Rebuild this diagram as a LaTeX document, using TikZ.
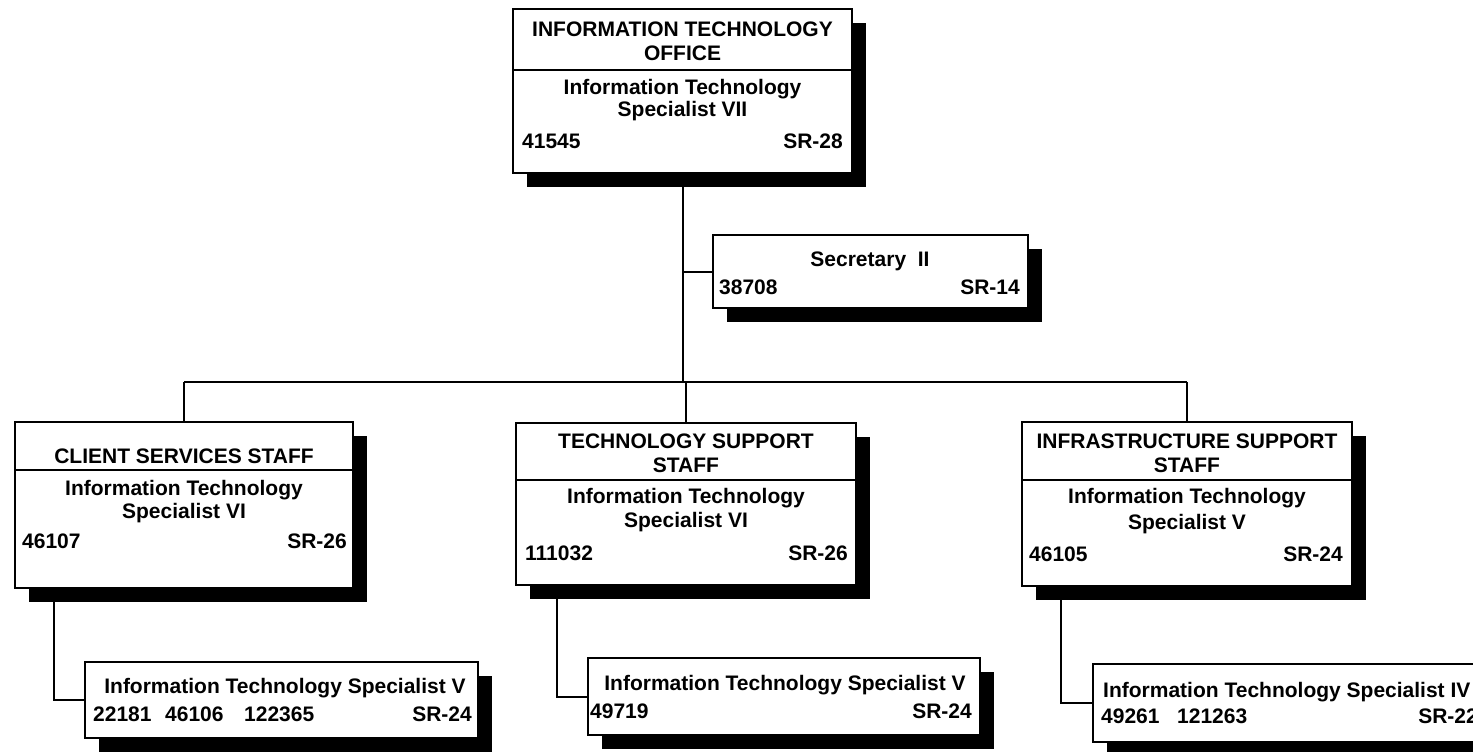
\documentclass[tikz,border=0pt]{standalone}
\usepackage{fontspec}
\setmainfont{Liberation Sans}
\usetikzlibrary{positioning,shadows}
\begin{document}
\begin{tikzpicture}[x=1pt,y=-1pt, line join=miter, font=\bfseries\fontsize{21}{24}\selectfont,
	post/.style={draw, line width=2pt, fill=white, inner sep=0pt,
		drop shadow={shadow xshift=14pt, shadow yshift=-14pt, fill=black, opacity=1}},
	txt/.style={inner sep=0pt, anchor=base},
	txtl/.style={inner sep=0pt, anchor=base west},
	txtr/.style={inner sep=0pt, anchor=base east},
	link/.style={line width=2pt}]
	\useasboundingbox (0,0) rectangle (1473,752);
	\clip (0,0) rectangle (1473,752);
	% Office
	\node[post, minimum width=339, minimum height=164] (ito) at (682.5,91) {};
	\draw[link] ([yshift=-62pt]ito.north west) -- ([yshift=-62pt]ito.north east);
	\node[txt] (ito-a) at (682.5,37) {INFORMATION TECHNOLOGY};
	\node[txt] (ito-b) at (682.5,60) {OFFICE};
	\node[txt] (ito-c) at (682.5,95) {Information Technology};
	\node[txt] (ito-d) at (682.5,117) {Specialist VII};
	\node[txtl] (ito-no) at (522,148) {41545};
	\node[txtr] (ito-sr) at (843,148) {SR-28};
	% Secretary
	\node[post, minimum width=315, minimum height=73] (sec) at (870.5,271.5) {};
	\node[txt] (sec-a) at (870,266) {Secretary\ \ II};
	\node[txtl] (sec-no) at (719,294) {38708};
	\node[txtr] (sec-sr) at (1020,294) {SR-14};
	% Client services
	\node[post, minimum width=338, minimum height=166] (cs) at (184,505) {};
	\draw[link] ([yshift=-49pt]cs.north west) -- ([yshift=-49pt]cs.north east);
	\node[txt] (cs-a) at (184,463) {CLIENT SERVICES STAFF};
	\node[txt] (cs-c) at (184,495) {Information Technology};
	\node[txt] (cs-d) at (184,518) {Specialist VI};
	\node[txtl] (cs-no) at (22,548) {46107};
	\node[txtr] (cs-sr) at (347,548) {SR-26};
	% Technology support
	\node[post, minimum width=340, minimum height=162] (ts) at (686,504) {};
	\draw[link] ([yshift=-58pt]ts.north west) -- ([yshift=-58pt]ts.north east);
	\node[txt] (ts-a) at (686,448) {TECHNOLOGY SUPPORT};
	\node[txt] (ts-b) at (686,472) {STAFF};
	\node[txt] (ts-c) at (686,503) {Information Technology};
	\node[txt] (ts-d) at (686,527) {Specialist VI};
	\node[txtl] (ts-no) at (525,560) {111032};
	\node[txtr] (ts-sr) at (848,560) {SR-26};
	% Infrastructure support
	\node[post, minimum width=330, minimum height=164] (is) at (1187,504) {};
	\draw[link] ([yshift=-59pt]is.north west) -- ([yshift=-59pt]is.north east);
	\node[txt] (is-a) at (1187,448) {INFRASTRUCTURE SUPPORT};
	\node[txt] (is-b) at (1187,472) {STAFF};
	\node[txt] (is-c) at (1187,503) {Information Technology};
	\node[txt] (is-d) at (1187,529) {Specialist V};
	\node[txtl] (is-no) at (1029,561) {46105};
	\node[txtr] (is-sr) at (1343,561) {SR-24};
	% Specialists
	\node[post, minimum width=393, minimum height=76] (cs-sp) at (281.5,700) {};
	\node[txt] (cs-sp-a) at (285,693) {Information Technology Specialist V};
	\node[txtl] (cs-sp-n1) at (93,721) {22181};
	\node[txtl] (cs-sp-n2) at (165,721) {46106};
	\node[txtl] (cs-sp-n3) at (244,721) {122365};
	\node[txtr] (cs-sp-sr) at (472,721) {SR-24};
	\node[post, minimum width=392, minimum height=77] (ts-sp) at (784,696.5) {};
	\node[txt] (ts-sp-a) at (785,690) {Information Technology Specialist V};
	\node[txtl] (ts-sp-n1) at (590,718) {49719};
	\node[txtr] (ts-sp-sr) at (972,718) {SR-24};
	\node[post, minimum width=393, minimum height=78] (is-sp) at (1289.5,703) {};
	\node[txtl] (is-sp-a) at (1103,697) {Information Technology Specialist IV};
	\node[txtl] (is-sp-n1) at (1101,723) {49261};
	\node[txtl] (is-sp-n2) at (1177,723) {121263};
	\node[txtr] (is-sp-sr) at (1478,723) {SR-22};
	% Connectors
	\coordinate (bus) at (683,382);
	\draw[link] (ito.south) -- (ito.south |- bus);
	\draw[link] (sec.west) -- (sec.west -| ito.south);
	\draw[link] (cs.north |- bus) -- (is.north |- bus);
	\draw[link] (cs.north |- bus) -- (cs.north);
	\draw[link] (ts.north |- bus) -- (ts.north);
	\draw[link] (is.north |- bus) -- (is.north);
	\coordinate (cs-drop) at ([xshift=40pt]cs.south west);
	\coordinate (ts-drop) at ([xshift=42pt]ts.south west);
	\coordinate (is-drop) at ([xshift=40pt]is.south west);
	\draw[link] (cs-drop) |- (cs-sp.west);
	\draw[link] (ts-drop) |- (ts-sp.west);
	\draw[link] (is-drop) |- (is-sp.west);
\end{tikzpicture}
\end{document}
